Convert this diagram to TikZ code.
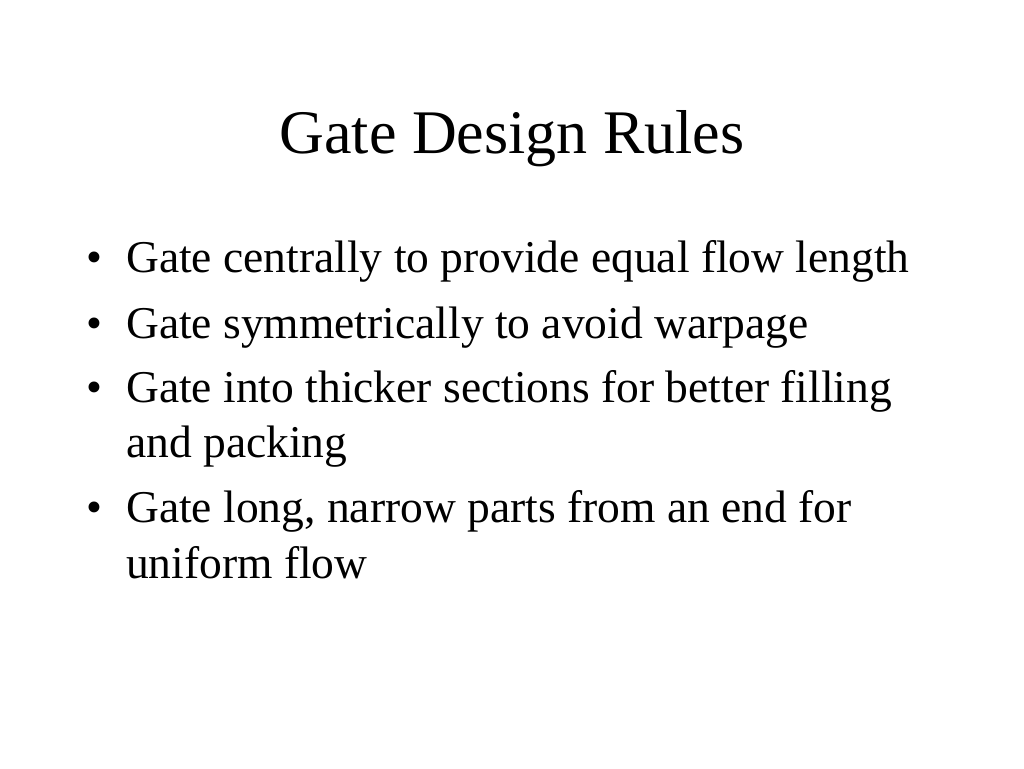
\documentclass[tikz,border=0pt]{standalone}
\usepackage{fontspec}
\setmainfont{Liberation Serif}
\begin{document}
\begin{tikzpicture}[x=1pt,y=-1pt,
    title/.style={anchor=base,inner sep=0pt,font=\fontsize{62}{70}\selectfont},
    bullet/.style={anchor=base west,inner sep=0pt,font=\fontsize{45.5}{54}\selectfont},
    line/.style={anchor=base west,inner sep=0pt,font=\fontsize{45.5}{54}\selectfont}]
        \useasboundingbox[fill=white] (0,0) rectangle (1024,768);
        \node (title) [title] at (512,153) {Gate Design Rules};

        \node (b1) [bullet] at (86,272) {•};
        \node (l1) [line] at (126,272) {Gate centrally to provide equal flow length};
        \node (b2) [bullet] at (86,338) {•};
        \node (l2) [line] at (126,338) {Gate symmetrically to avoid warpage};
        \node (b3) [bullet] at (86,402) {•};
        \node (l3) [line] at (126,402) {Gate into thicker sections for better filling};
        \node (l3b) [line] at (126,457) {and packing};
        \node (b4) [bullet] at (86,522) {•};
        \node (l4) [line] at (126,522) {Gate long, narrow parts from an end for};
        \node (l4b) [line] at (126,578) {uniform flow};
    \end{tikzpicture}
\end{document}
